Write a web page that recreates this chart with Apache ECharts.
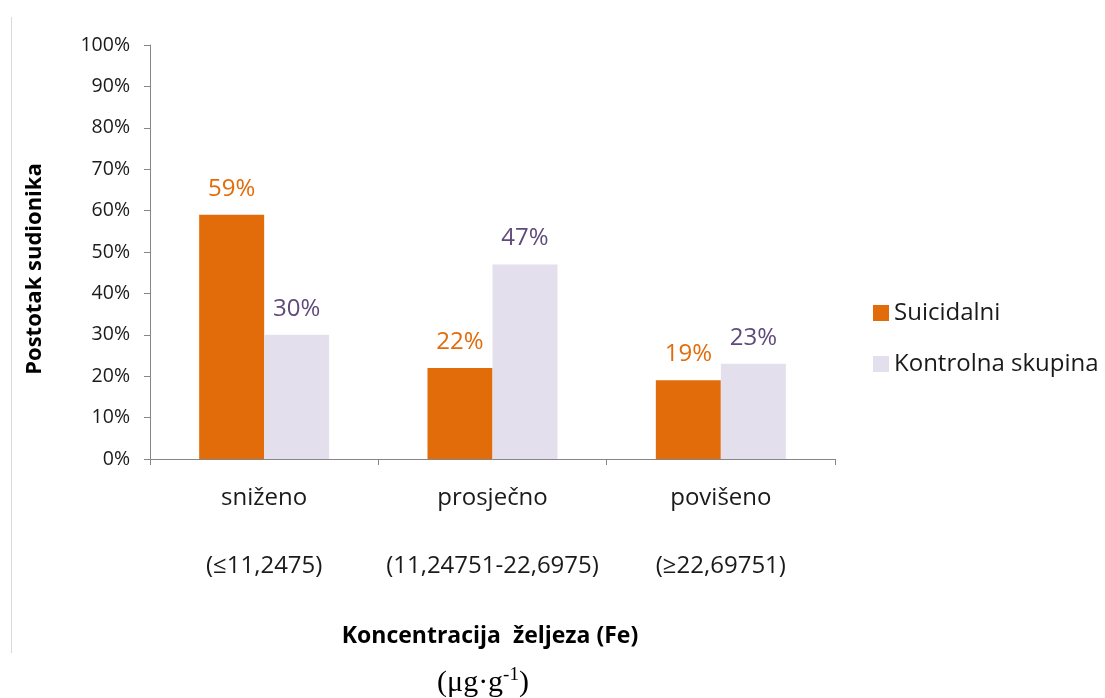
<!DOCTYPE html>
<html><head><meta charset="utf-8">
<script src="https://cdn.jsdelivr.net/npm/echarts@6/dist/echarts.min.js"></script>
<style>html,body{margin:0;padding:0;background:#fff}#c{width:1105px;height:698px}</style>
</head><body><div id="c"></div>
<script>
const categories = ['sniženo', 'prosječno', 'povišeno'];
const ranges = ['(≤11,2475)', '(11,24751-22,6975)', '(≥22,69751)'];
const seriesNames = ['Suicidalni', 'Kontrolna skupina'];
const suicidalni = [59, 22, 19];
const kontrolna = [30, 47, 23];
const yTicks = [0, 10, 20, 30, 40, 50, 60, 70, 80, 90, 100];

const FONT = '"Open Sans", Lato, sans-serif';
const chart = echarts.init(document.getElementById('c'), null, {renderer: 'canvas'});
const labelFmt = p => p.value + '%';
chart.setOption({
  animation: false,
  textStyle: {fontFamily: FONT},
  grid: {left: 150, right: 270, top: 45, bottom: 239, containLabel: false},
  legend: {
    orient: 'vertical', left: 873, top: 301, padding: 0, itemWidth: 16, itemHeight: 16, itemGap: 27,
    icon: 'rect',
    textStyle: {fontFamily: FONT, fontSize: 24, lineHeight: 20, color: '#1a1a1a'},
    data: seriesNames
  },
  xAxis: {
    type: 'category',
    data: categories.map((c, i) => c + '\n\n' + ranges[i]),
    axisLine: {lineStyle: {color: '#868686', width: 1}},
    axisTick: {show: true, interval: 0, alignWithLabel: false, length: 6, lineStyle: {color: '#868686'}},
    axisLabel: {interval: 0, fontFamily: FONT, fontSize: 24, color: '#1a1a1a', lineHeight: 34, margin: 22}
  },
  yAxis: {
    type: 'value', min: 0, max: 100, interval: 10,
    axisLine: {show: true, lineStyle: {color: '#868686', width: 1}},
    axisTick: {show: true, length: 6, lineStyle: {color: '#868686'}},
    splitLine: {show: false},
    axisLabel: {fontFamily: FONT, fontSize: 19.5, color: '#1a1a1a', margin: 20,
      formatter: v => yTicks.includes(v) ? v + '%' : ''}
  },
  series: [
    {name: seriesNames[0], type: 'bar', data: suicidalni, barWidth: 65, barGap: '0%',
     itemStyle: {color: '#E36C0A'},
     label: {show: true, position: 'top', distance: 14, formatter: labelFmt,
       fontFamily: FONT, fontSize: 24, color: '#E36C0A'}},
    {name: seriesNames[1], type: 'bar', data: kontrolna, barWidth: 65,
     itemStyle: {color: '#E4DFEC'},
     label: {show: true, position: 'top', distance: 14, formatter: labelFmt,
       fontFamily: FONT, fontSize: 24, color: '#604A7B'}}
  ],
  graphic: [
    {type: 'line', shape: {x1: 11.5, y1: 17, x2: 11.5, y2: 653}, style: {stroke: '#d9d9d9', lineWidth: 1}},
    {type: 'text', x: 35, y: 269, rotation: Math.PI / 2, style: {text: 'Postotak sudionika', font: 'bold 22px ' + FONT,
      fill: '#000', textAlign: 'center', textVerticalAlign: 'middle'}},
    {type: 'text', x: 490, y: 636, style: {text: 'Koncentracija  željeza (Fe)', font: 'bold 23px ' + FONT,
      fill: '#000', textAlign: 'center', textVerticalAlign: 'middle'}},
    {type: 'text', x: 483, y: 682, style: {
      text: '{a|(μg·g}{s|-1}{a|)}', textAlign: 'center', textVerticalAlign: 'middle',
      rich: {a: {fontFamily: '"Liberation Serif", "DejaVu Serif", serif', fontSize: 30, fill: '#000', verticalAlign: 'bottom'},
             s: {fontFamily: '"Liberation Serif", serif', fontSize: 19, fill: '#000', verticalAlign: 'top', padding: [0, 0, 13, 0]}}
    }}
  ]
});
</script></body></html>
